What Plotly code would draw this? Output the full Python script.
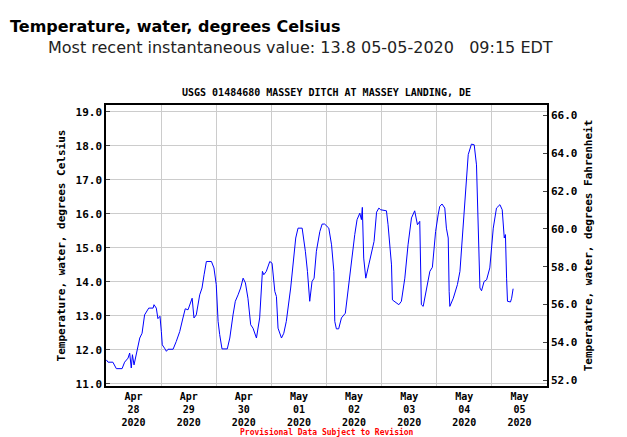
import plotly.graph_objects as go
import pandas as pd

# hours since 2020-04-28 00:00 EDT, water temperature in deg C
hours = [0.1, 0.9, 3.0, 3.8, 4.5, 7.0, 8.1, 9.6, 10.3, 11.0, 11.5, 12.2, 13.2, 13.9, 14.7, 15.7,
         16.8, 18.6, 20.5, 20.9, 21.9, 22.6, 23.5, 24.1, 24.5, 25.5, 26.3, 27.0, 29.2, 30.6, 32.1,
         33.5, 34.5, 35.7, 36.4, 37.5, 38.3, 39.3, 40.8, 41.8, 42.7, 43.7, 45.9, 47.0, 48.0, 48.8,
         49.5, 50.5, 52.8, 53.9, 55.3, 56.3, 57.5, 58.6, 59.7, 60.7, 61.8, 63.0, 64.0, 65.5, 66.9,
         68.1, 68.7, 69.8, 71.3, 72.3, 73.5, 74.2, 74.9, 76.4, 77.4, 78.5, 80.4, 81.7, 82.6, 83.6,
         85.4, 86.8, 87.7, 88.7, 89.7, 90.6, 91.6, 93.1, 94.1, 95.2, 97.0, 98.2, 99.2, 99.6, 100.3,
         101.3, 102.5, 104.2, 105.7, 107.2, 108.3, 109.3, 110.5, 111.2, 111.6, 112.2, 113.1, 114.4,
         115.6, 116.7, 117.8, 118.8, 119.6, 122.1, 122.8, 124.3, 124.7, 125.7, 127.5, 128.6, 130.1,
         131.5, 133.0, 134.4, 135.6, 136.6, 137.3, 138.1, 139.5, 141.0, 142.1, 143.5, 144.6, 145.3,
         146.3, 147.5, 148.2, 149.0, 149.4, 149.7, 151.2, 153.0, 154.1, 155.5, 156.7, 157.7, 159.1,
         160.3, 161.3, 162.3, 162.8, 163.5, 164.6, 165.7, 167.1, 168.6, 170.0, 171.5, 172.5, 173.4,
         173.9, 174.4, 174.8, 176.1, 176.6, 177.25]
temps = [11.71, 11.64, 11.64, 11.54, 11.45, 11.45, 11.64, 11.76, 11.91, 11.47, 11.86, 11.56, 11.86,
         12.15, 12.35, 12.49, 13.03, 13.23, 13.23, 13.33, 13.23, 12.92, 12.99, 12.54, 12.15, 12.05,
         11.96, 12.02, 12.02, 12.25, 12.54, 12.94, 13.21, 13.18, 13.33, 13.52, 12.94, 13.03, 13.62,
         13.82, 14.21, 14.60, 14.60, 14.41, 13.92, 12.84, 12.45, 12.03, 12.03, 12.35, 13.03, 13.43,
         13.62, 13.82, 14.11, 13.97, 13.52, 12.74, 12.64, 12.35, 12.94, 14.31, 14.21, 14.31, 14.60,
         14.55, 13.72, 13.57, 12.64, 12.35, 12.49, 12.84, 13.82, 14.70, 15.29, 15.58, 15.58, 14.90,
         14.31, 13.43, 14.01, 14.11, 14.90, 15.48, 15.70, 15.70, 15.58, 15.09, 14.31, 12.84, 12.62,
         12.62, 12.94, 13.08, 13.97, 14.90, 15.39, 15.83, 16.02, 15.83, 16.19, 14.70, 14.11, 14.50,
         14.90, 15.19, 16.05, 16.17, 16.12, 16.09, 15.68, 14.50, 13.47, 13.41, 13.33, 13.43, 14.11,
         15.09, 15.88, 16.09, 15.68, 15.78, 13.33, 13.28, 13.82, 14.31, 14.43, 15.48, 15.97, 16.22,
         16.29, 16.17, 15.58, 15.29, 13.72, 13.28, 13.52, 13.92, 14.31, 15.68, 16.95, 17.74, 18.05,
         18.03, 17.44, 14.70, 13.82, 13.74, 14.01, 14.06, 14.41, 15.58, 16.17, 16.27, 16.12, 15.29,
         15.39, 14.11, 13.43, 13.41, 13.52, 13.8]

c_range = [10.94, 19.2]
f_range = [c * 1.8 + 32 for c in c_range]
c_ticks = [11, 12, 13, 14, 15, 16, 17, 18, 19]
f_ticks = [52, 54, 56, 58, 60, 62, 64, 66]
x_range = ["2020-04-28", "2020-05-06"]

times = pd.Timestamp("2020-04-28") + pd.to_timedelta(hours, unit="h")
mono = dict(family="DejaVu Sans Mono", size=11, color="black")

fig = go.Figure()
# invisible traces to activate the day-grid axis and the Fahrenheit axis
fig.add_trace(go.Scatter(x=[times[0]], y=[temps[0]], xaxis="x2", mode="lines",
                         showlegend=False, hoverinfo="skip", line=dict(width=0)))
fig.add_trace(go.Scatter(x=[times[0]], y=[f_ticks[0]], yaxis="y2", mode="lines",
                         showlegend=False, hoverinfo="skip", line=dict(width=0)))
fig.add_trace(go.Scatter(x=times, y=temps, mode="lines",
                         line=dict(color="#0000ff", width=1), showlegend=False))

fig.update_layout(
    width=627, height=437,
    margin=dict(l=98, r=88, t=97, b=59),
    paper_bgcolor="white", plot_bgcolor="white",
    xaxis=dict(range=x_range, dtick=86400000, tick0="2020-04-28",
               ticklabelmode="period", tickformat="<b>%b</b><br><b>%d</b><br><b>%Y</b>",
               showgrid=False, showline=True, linecolor="black",
               linewidth=1.5, mirror=True, ticks="", tickfont=dict(mono, size=10)),
    xaxis2=dict(range=x_range, overlaying="x", dtick=86400000, tick0="2020-04-28",
                showgrid=True, gridcolor="#cccccc", showticklabels=False, ticks=""),
    yaxis=dict(range=c_range, tickvals=c_ticks, ticktext=[f"<b>{v:.1f}</b>" for v in c_ticks],
               showgrid=True, gridcolor="#cccccc", showline=True, linecolor="black",
               linewidth=1.5, mirror=True, ticks="inside", ticklen=4, tickfont=mono,
               zeroline=False,
               title=dict(text="<b>Temperature, water, degrees Celsius</b>", font=mono, standoff=8)),
    yaxis2=dict(range=f_range, overlaying="y", side="right", tickvals=f_ticks,
                ticktext=[f"<b>{v:.1f}</b>" for v in f_ticks], showgrid=False,
                showline=True, linecolor="black", linewidth=1.5,
                ticks="inside", ticklen=4, tickfont=mono, zeroline=False,
                title=dict(text="<b>Temperature, water, degrees Fahrenheit</b>", font=mono, standoff=8)),
    annotations=[
        dict(text="<b>Temperature, water, degrees Celsius</b>", xref="paper", yref="paper",
             x=-98 / 441, y=1 + 79 / 281, xanchor="left", yanchor="middle", showarrow=False,
             font=dict(family="DejaVu Sans", size=16, color="black")),
        dict(text="Most recent instantaneous value: 13.8 05-05-2020   09:15 EDT", xref="paper",
             yref="paper", x=-60 / 441, y=1 + 58 / 281, xanchor="left", yanchor="middle",
             showarrow=False, font=dict(family="DejaVu Sans", size=16, color="#222222")),
        dict(text="<b>USGS 01484680 MASSEY DITCH AT MASSEY LANDING, DE</b>", xref="paper",
             yref="paper", x=0.5, y=1 + 13 / 281, xanchor="center", yanchor="middle",
             showarrow=False, font=dict(family="DejaVu Sans Mono", size=10, color="black")),
        dict(text="<b>Provisional Data Subject to Revision</b>", xref="paper", yref="paper",
             x=0.5, y=-52 / 281, xanchor="center", yanchor="bottom", showarrow=False,
             borderpad=0, font=dict(family="DejaVu Sans Mono", size=8, color="red")),
    ],
)

fig.write_html("out.html")
